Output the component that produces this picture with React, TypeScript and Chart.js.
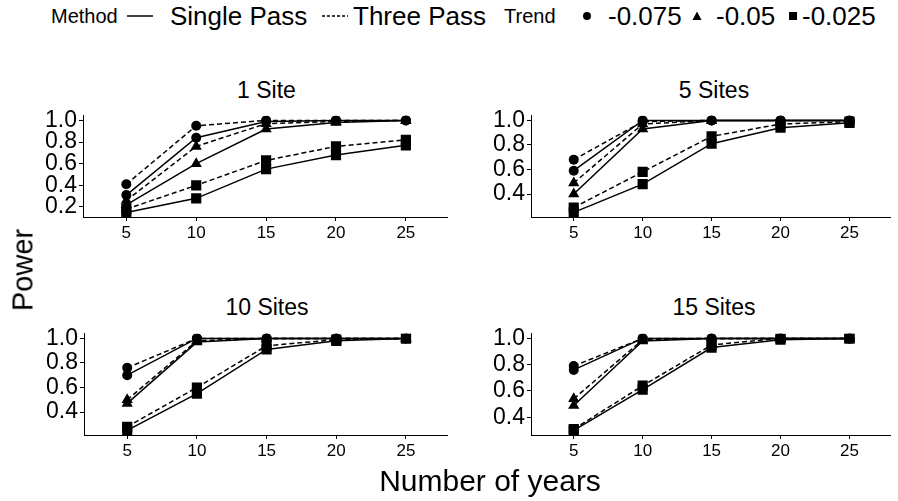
import React, { useEffect, useRef } from "react";
import { Chart, registerables } from "chart.js";

Chart.register(...registerables);

const FONT = "'Liberation Sans', Arial, Helvetica, sans-serif";

const years = [5, 10, 15, 20, 25];
const xTicks = [5, 10, 15, 20, 25];
const panelTitles = ["1 Site", "5 Sites", "10 Sites", "15 Sites"];
const methods = ["Single Pass", "Three Pass"];
const trends = ["-0.075", "-0.05", "-0.025"];

// 1 Site
const site1Single075 = [0.31, 0.84, 0.99, 1.0, 1.0];
const site1Three075 = [0.41, 0.95, 1.0, 1.0, 1.0];
const site1Single05 = [0.22, 0.6, 0.92, 0.98, 1.0];
const site1Three05 = [0.26, 0.76, 0.97, 0.99, 1.0];
const site1Single025 = [0.15, 0.28, 0.55, 0.68, 0.77];
const site1Three025 = [0.18, 0.4, 0.63, 0.76, 0.82];

// 5 Sites
const site5Single075 = [0.59, 1.0, 1.0, 1.0, 1.0];
const site5Three075 = [0.68, 0.99, 1.0, 1.0, 1.0];
const site5Single05 = [0.4, 0.93, 1.0, 1.0, 1.0];
const site5Three05 = [0.49, 0.97, 1.0, 1.0, 1.0];
const site5Single025 = [0.25, 0.48, 0.81, 0.94, 0.98];
const site5Three025 = [0.29, 0.58, 0.87, 0.97, 0.99];

// 10 Sites
const site10Single075 = [0.7, 1.0, 1.0, 1.0, 1.0];
const site10Three075 = [0.76, 1.0, 1.0, 1.0, 1.0];
const site10Single05 = [0.47, 0.97, 1.0, 1.0, 1.0];
const site10Three05 = [0.5, 0.98, 1.0, 1.0, 1.0];
const site10Single025 = [0.25, 0.55, 0.91, 0.98, 1.0];
const site10Three025 = [0.28, 0.6, 0.94, 0.99, 1.0];

// 15 Sites
const site15Single075 = [0.76, 1.0, 1.0, 1.0, 1.0];
const site15Three075 = [0.79, 1.0, 1.0, 1.0, 1.0];
const site15Single05 = [0.49, 0.98, 1.0, 1.0, 1.0];
const site15Three05 = [0.54, 0.99, 1.0, 1.0, 1.0];
const site15Single025 = [0.3, 0.61, 0.93, 0.99, 1.0];
const site15Three025 = [0.31, 0.64, 0.95, 1.0, 1.0];

const yTicksSite1 = [0.2, 0.4, 0.6, 0.8, 1.0];
const yTicksOther = [0.4, 0.6, 0.8, 1.0];

const panelSeries = [
  [site1Single075, site1Three075, site1Single05, site1Three05, site1Single025, site1Three025],
  [site5Single075, site5Three075, site5Single05, site5Three05, site5Single025, site5Three025],
  [site10Single075, site10Three075, site10Single05, site10Three05, site10Single025, site10Three025],
  [site15Single075, site15Three075, site15Single05, site15Three05, site15Single025, site15Three025],
];
const panelYTicks = [yTicksSite1, yTicksOther, yTicksOther, yTicksOther];

const trendStyle: Record<string, { style: string; radius: number }> = {
  "-0.075": { style: "circle", radius: 5 },
  "-0.05": { style: "triangle", radius: 6.5 },
  "-0.025": { style: "rect", radius: 7.2 },
};

// layout (pixels)
const panelBoxes = [
  { left: 33, top: 100, width: 422, height: 150, padRight: 5, titleY: 90 },
  { left: 481, top: 100, width: 417, height: 150, padRight: 1, titleY: 90 },
  { left: 34, top: 318, width: 421, height: 150, padRight: 5, titleY: 307 },
  { left: 481, top: 318, width: 417, height: 150, padRight: 1, titleY: 307 },
];

function yRange(series: number[][]) {
  let mn = Infinity;
  let mx = -Infinity;
  series.forEach((s) => s.forEach((v) => { mn = Math.min(mn, v); mx = Math.max(mx, v); }));
  const pad = (mx - mn) * 0.05;
  return { min: mn - pad, max: mx + pad };
}

function Panel({ index }: { index: number }) {
  const ref = useRef<HTMLCanvasElement | null>(null);
  const box = panelBoxes[index];
  useEffect(() => {
    if (!ref.current) return;
    const series = panelSeries[index];
    const rng = yRange(series);
    const datasets = series.map((vals, k) => {
      const trend = trends[Math.floor(k / 2)];
      const method = methods[k % 2];
      const ts = trendStyle[trend];
      return {
        label: `${method} ${trend}`,
        data: years.map((x, i) => ({ x, y: vals[i] })),
        borderColor: "#000",
        backgroundColor: "#000",
        borderWidth: 1.5,
        borderDash: method === "Three Pass" ? [5, 3] : [],
        pointStyle: ts.style as any,
        pointRadius: ts.radius,
        pointBorderWidth: 0,
        pointBackgroundColor: "#000",
        tension: 0,
        fill: false,
      };
    });
    const yt = panelYTicks[index];
    const chart = new Chart(ref.current, {
      type: "line",
      data: { datasets },
      options: {
        animation: false,
        responsive: false,
        maintainAspectRatio: false,
        layout: { padding: { top: 7, right: box.padRight, left: 0, bottom: 0 } },
        plugins: { legend: { display: false }, tooltip: { enabled: false }, title: { display: false } },
        scales: {
          x: {
            type: "linear",
            min: 1.9,
            max: 28,
            afterBuildTicks: (s: any) => { s.ticks = xTicks.map((v) => ({ value: v })); },
            afterFit: (s: any) => { s.height = 33; },
            grid: { drawOnChartArea: false, drawTicks: true, tickLength: 4, color: "#000", lineWidth: 1 },
            border: { color: "#000", width: 1 },
            ticks: { font: { family: FONT, size: 17 }, color: "#000", padding: 2, maxRotation: 0, autoSkip: false },
          },
          y: {
            type: "linear",
            min: rng.min,
            max: rng.max,
            afterBuildTicks: (s: any) => { s.ticks = yt.map((v) => ({ value: v })); },
            afterFit: (s: any) => { s.width = 50; },
            grid: { drawOnChartArea: false, drawTicks: true, tickLength: 4, color: "#000", lineWidth: 1 },
            border: { color: "#000", width: 1 },
            ticks: {
              font: { family: FONT, size: 23 },
              color: "#000",
              padding: 2,
              autoSkip: false,
              callback: (v: any) => Number(v).toFixed(1),
            },
          },
        },
      },
    });
    return () => chart.destroy();
  }, [index]);
  const plotLeft = box.left + 50;
  const plotRight = box.left + box.width - box.padRight;
  return (
    <>
      <div
        style={{
          position: "absolute",
          left: plotLeft,
          width: plotRight - plotLeft,
          top: box.titleY,
          transform: "translateY(-50%)",
          textAlign: "center",
          fontFamily: FONT,
          fontSize: 23,
          lineHeight: 1,
          color: "#000",
        }}
      >
        {panelTitles[index]}
      </div>
      <canvas
        ref={ref}
        width={box.width}
        height={box.height}
        style={{ position: "absolute", left: box.left, top: box.top, width: box.width, height: box.height }}
      />
    </>
  );
}

function Sym({ kind }: { kind: string }) {
  if (kind === "solid" || kind === "dash") {
    return (
      <svg width={26} height={10} style={{ display: "block" }}>
        <line x1={0} y1={5} x2={26} y2={5} stroke="#000" strokeWidth={1.5} strokeDasharray={kind === "dash" ? "3 2" : undefined} />
      </svg>
    );
  }
  return (
    <svg width={12} height={12} style={{ display: "block" }}>
      {kind === "circle" && <circle cx={6} cy={6} r={4} fill="#000" />}
      {kind === "triangle" && <polygon points="6,1.5 10.5,10 1.5,10" fill="#000" />}
      {kind === "rect" && <rect x={2} y={2} width={8} height={8} fill="#000" />}
    </svg>
  );
}

const legendItems: { x: number; text?: string; size?: number; sym?: string }[] = [
  { x: 51, text: "Method", size: 20 },
  { x: 127, sym: "solid" },
  { x: 170, text: "Single Pass", size: 26 },
  { x: 322, sym: "dash" },
  { x: 353, text: "Three Pass", size: 26 },
  { x: 504, text: "Trend", size: 20 },
  { x: 581, sym: "circle" },
  { x: 608, text: "-0.075", size: 26 },
  { x: 691, sym: "triangle" },
  { x: 716, text: "-0.05", size: 26 },
  { x: 787, sym: "rect" },
  { x: 802, text: "-0.025", size: 26 },
];

export default function App() {
  return (
    <div style={{ position: "absolute", left: 0, top: 0, width: 898, height: 501, background: "#fff", overflow: "hidden" }}>
      {legendItems.map((it, i) =>
        it.text ? (
          <div
            key={i}
            style={{
              position: "absolute",
              left: it.x,
              top: 16,
              transform: "translateY(-50%)",
              fontFamily: FONT,
              fontSize: it.size,
              lineHeight: 1,
              whiteSpace: "nowrap",
              color: "#000",
            }}
          >
            {it.text}
          </div>
        ) : (
          <div key={i} style={{ position: "absolute", left: it.x, top: 16, transform: "translateY(-50%)" }}>
            <Sym kind={it.sym as string} />
          </div>
        )
      )}
      {[0, 1, 2, 3].map((i) => (
        <Panel key={i} index={i} />
      ))}
      <div
        style={{
          position: "absolute",
          left: 83,
          width: 814,
          top: 481,
          transform: "translateY(-50%)",
          textAlign: "center",
          fontFamily: FONT,
          fontSize: 30,
          lineHeight: 1,
          color: "#000",
        }}
      >
        Number of years
      </div>
      <div
        style={{
          position: "absolute",
          left: 23,
          top: 270,
          transform: "translate(-50%, -50%) rotate(-90deg)",
          fontFamily: FONT,
          fontSize: 29,
          lineHeight: 1,
          whiteSpace: "nowrap",
          color: "#000",
        }}
      >
        Power
      </div>
    </div>
  );
}
